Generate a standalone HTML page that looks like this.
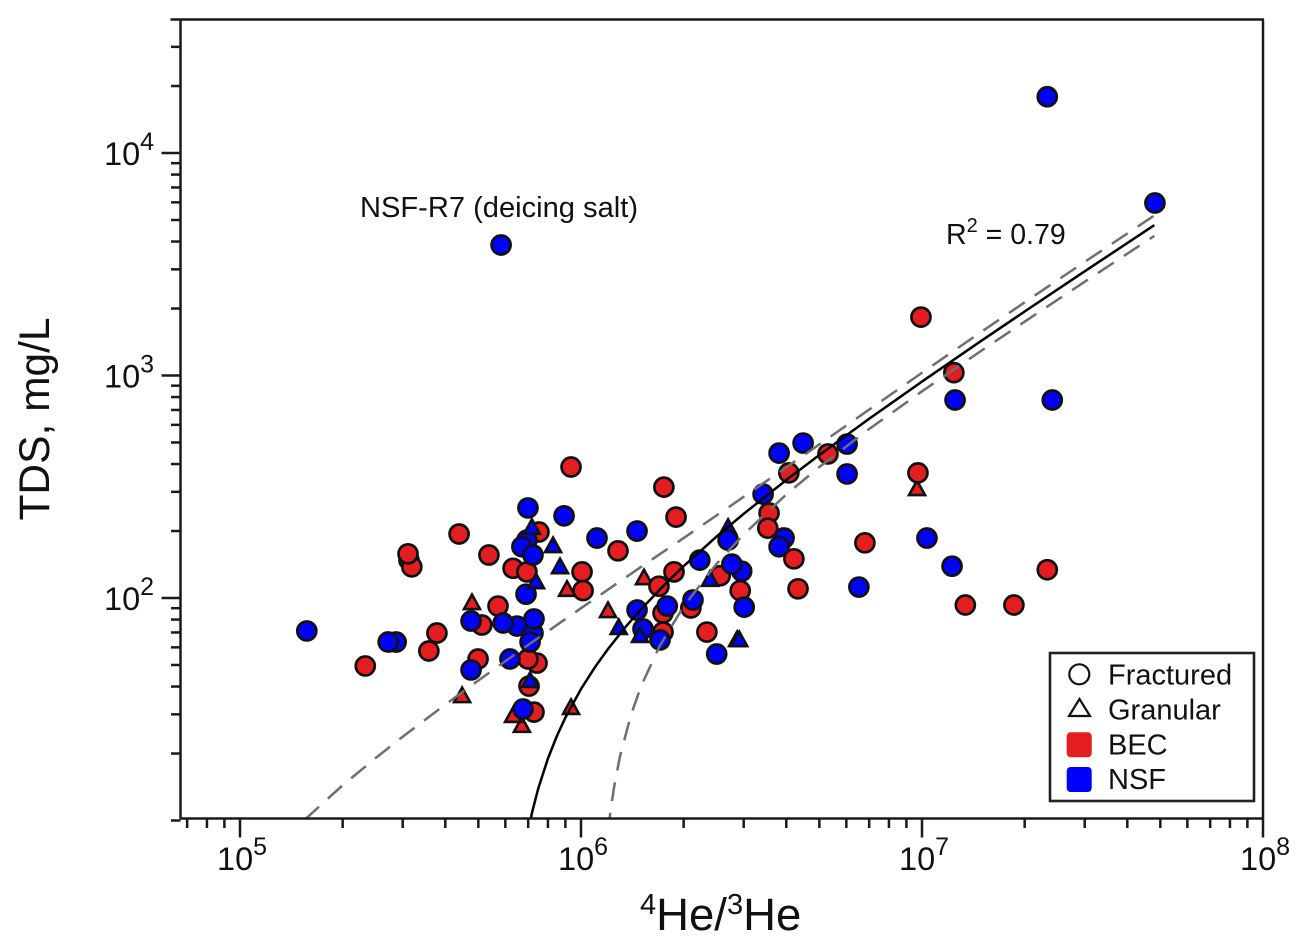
<!DOCTYPE html>
<html lang="en">
<head>
<meta charset="utf-8">
<title>TDS vs 4He/3He</title>
<style>
html,body{margin:0;padding:0;background:#fff;width:1296px;height:944px;overflow:hidden}
svg{display:block}
text{font-family:"Liberation Sans",sans-serif;fill:#111}
</style>
</head>
<body>
<svg id="chart" xmlns="http://www.w3.org/2000/svg" width="1296" height="944" viewBox="0 0 1296 944">
  <defs><clipPath id="plot-clip"><rect x="181" y="20" width="1082" height="798"/></clipPath></defs>
  <g id="marks"></g>
  <g id="fits" clip-path="url(#plot-clip)"></g>
  <g id="axes"></g>
  <g id="tick-labels"></g>

  <text transform="translate(49,419) rotate(-90)" text-anchor="middle" font-size="42.5">TDS, mg/L</text>
  <text x="640" y="930" font-size="45.5"><tspan font-size="29" dy="-16">4</tspan><tspan dy="16">He/</tspan><tspan font-size="29" dy="-16">3</tspan><tspan dy="16">He</tspan></text>
  <text x="360" y="217" font-size="28.5" textLength="278" lengthAdjust="spacingAndGlyphs">NSF-R7 (deicing salt)</text>
  <text x="946" y="244" font-size="28.5">R<tspan font-size="20" dy="-12">2</tspan><tspan dy="12"> = 0.79</tspan></text>

  <g>
    <rect x="1050" y="653" width="204" height="148" fill="#fff" stroke="#222" stroke-width="2.6"/>
    <circle cx="1079.3" cy="674.3" r="10" fill="#fff" stroke="#111" stroke-width="2.2"/>
    <text x="1108" y="684.5" font-size="29">Fractured</text>
    <path d="M1079.5 699 L1069 716 L1090 716 Z" fill="#fff" stroke="#111" stroke-width="2.2"/>
    <text x="1108" y="719.5" font-size="29">Granular</text>
    <rect x="1066.7" y="732.3" width="25" height="25" rx="4" fill="#e41e20"/>
    <text x="1108" y="754.5" font-size="29">BEC</text>
    <rect x="1066.7" y="767" width="25" height="25" rx="4" fill="#0000ff"/>
    <text x="1108" y="789" font-size="29">NSF</text>
  </g>
</svg>
<script>
// ---- data: He ratio (x) and TDS mg/L (y) ----
const becGranularX = [4.79e5,9.1e5,4.48e5,9.35e5,6.71e5,6.32e5,1.2e6,1.53e6,9.67e6];
const becGranularY = [95.9,110,36.6,32.4,26.9,29.8,88.3,124,312];
const becFracturedX = [9.35e5,4.39e5,7.53e5,3.13e5,3.19e5,3.11e5,5.37e5,6.32e5,6.94e5,1.007e6,1.014e6,5.71e5,5.12e5,3.78e5,3.58e5,2.33e5,4.99e5,7.43e5,6.99e5,7.04e5,7.28e5,1.75e6,1.9e6,1.284e6,1.874e6,1.693e6,1.74e6,1.74e6,2.1e6,2.56e6,2.93e6,2.34e6,4.07e6,5.3e6,3.56e6,3.53e6,4.21e6,4.33e6,6.8e6,9.93e6,1.24e7,9.73e6,2.33e7,1.34e7,1.86e7];
const becFracturedY = [388,194,198,148,138,158,156,136,131,131,108,92,75.6,69.6,57.8,49.5,53.2,51,53.2,40.2,30.7,315,231,163,131,113,85.6,70.3,90.2,126,108,70.3,365,444,241,206,150,110,177,1830,1030,365,134,93,93];
const nsfGranularBehindX = [2.7e6,3.88e6];
const nsfGranularBehindY = [209,188];
const nsfFracturedX = [6.99e5,8.92e5,1.114e6,6.94e5,6.71e5,7.23e5,6.9e5,1.57e5,2.87e5,2.72e5,4.76e5,6.49e5,5.91e5,7.23e5,7.28e5,7.09e5,6.19e5,4.76e5,6.76e5,1.46e6,1.46e6,1.52e6,1.705e6,1.79e6,2.13e6,2.23e6,2.7e6,2.96e6,2.77e6,3.01e6,2.5e6,3.42e6,3.81e6,4.48e6,6.03e6,6.03e6,3.94e6,3.81e6,6.53e6,2.33e7,4.82e7,5.83e5,1.25e7,2.41e7,1.034e7,1.225e7];
const nsfFracturedY = [254,234,186,182,170,156,104,71.1,63.4,63.4,78.8,74.8,77.2,69.6,80.5,63.4,53.2,47.5,31.7,200,88.3,72.6,64.8,92,98,148,182,132,142,91,56,293,448,497,492,361,186,170,112,17900,5960,3860,776,776,186,139];
const nsfGranularX = [7.18e5,8.28e5,8.68e5,7.38e5,7.09e5,1.29e6,1.49e6,2.39e6,2.87e6,2.91e6];
const nsfGranularY = [209,173,139,119,42.8,74.1,68.2,122,65.4,65.4];

const fitX = [7e5,7.2e5,7.5e5,8e5,8.5e5,9e5,1e6,1.1e6,1.2e6,1.35e6,1.5e6,1.75e6,2e6,2.5e6,3e6,4e6,5e6,7e6,1e7,1.5e7,2e7,3e7,4.8e7];
const fitY = [9,11,14,19,24,29,39,49,59,74,89,114,139,189,239,339,439,639,939,1439,1939,2939,4739];
const upperX = [1.55e5,2e5,2.5e5,3e5,4e5,5e5,7e5,1e6,1.5e6,2e6,3e6,5e6,7e6,1e7,1.5e7,2e7,3e7,4.8e7];
const upperY = [10.1,14.4,19.1,23.8,33.2,42.6,61.5,90,138,186,285,490,703,1029,1579,2132,3240,5236];
const lowerX = [1.2e6,1.22e6,1.25e6,1.3e6,1.4e6,1.5e6,1.7e6,2e6,2.5e6,3e6,4e6,5e6,7e6,1e7,1.5e7,2e7,3e7,4.8e7];
const lowerY = [8.9,11,14.1,19.3,29.7,40.1,60.8,91.7,142.7,193,292,388,575,849,1299,1746,2638,4242];

const xTickExponents = [5,6,7,8];
const yTickExponents = [2,3,4];

// ---- axis functions ----
const NS = 'http://www.w3.org/2000/svg';
const frameLeft = 180.5, frameRight = 1263, frameTop = 19.5, frameBottom = 818.5;
function xScale(v){ return 240 + (Math.log10(v) - 5) * 341; }
function yScale(v){ return 598 - (Math.log10(v) - 2) * 222.5; }

const RED = '#e41e20', BLUE = '#0000ff';
const marksLayer = document.getElementById('marks');
const fitsLayer = document.getElementById('fits');
const axesLayer = document.getElementById('axes');
const labelLayer = document.getElementById('tick-labels');

function drawCircles(xs, ys, color, group){
  xs.forEach(function(v, i){
    const el = document.createElementNS(NS, 'circle');
    
    
    el.setAttribute('cx', xScale(v));
    el.setAttribute('cy', yScale(ys[i]));
    el.setAttribute('r', 9.5);
    el.setAttribute('fill', color);
    el.setAttribute('stroke', '#111');
    el.setAttribute('stroke-width', 2.7);
    marksLayer.appendChild(el);
  });
}
function drawTriangles(xs, ys, color, group){
  xs.forEach(function(v, i){
    const cx = xScale(v), cy = yScale(ys[i]);
    const el = document.createElementNS(NS, 'path');
    
    
    el.setAttribute('d', 'M' + cx + ' ' + (cy - 7.5) + 'L' + (cx - 8) + ' ' + (cy + 7) + 'L' + (cx + 8) + ' ' + (cy + 7) + 'Z');
    el.setAttribute('fill', color);
    el.setAttribute('stroke', '#111');
    el.setAttribute('stroke-width', 2.6);
    marksLayer.appendChild(el);
  });
}
function drawLine(xs, ys, name, color, width, dash){
  const el = document.createElementNS(NS, 'polyline');
  
  
  el.setAttribute('points', xs.map(function(v, i){ return xScale(v).toFixed(2) + ',' + yScale(ys[i]).toFixed(2); }).join(' '));
  el.setAttribute('fill', 'none');
  el.setAttribute('stroke', color);
  el.setAttribute('stroke-width', width);
  if (dash) el.setAttribute('stroke-dasharray', dash);
  fitsLayer.appendChild(el);
}
function axisLine(x1, y1, x2, y2, name){
  const el = document.createElementNS(NS, 'line');
  
  
  el.setAttribute('x1', x1);
  el.setAttribute('y1', y1);
  el.setAttribute('x2', x2);
  el.setAttribute('y2', y2);
  el.setAttribute('stroke', '#1a1a1a');
  el.setAttribute('stroke-width', 2.5);
  axesLayer.appendChild(el);
}
function powerLabel(x, y, exp, name){
  const t = document.createElementNS(NS, 'text');
  
  
  t.setAttribute('x', x);
  t.setAttribute('y', y);
  t.setAttribute('font-size', 32.5);
  t.textContent = '10';
  const s = document.createElementNS(NS, 'tspan');
  s.setAttribute('font-size', 25);
  s.setAttribute('dy', -15);
  s.textContent = String(exp);
  t.appendChild(s);
  labelLayer.appendChild(t);
}

// ---- marks, back to front ----
drawTriangles(becGranularX, becGranularY, RED, 'bec-granular');
drawCircles(becFracturedX, becFracturedY, RED, 'bec-fractured');
drawTriangles(nsfGranularBehindX, nsfGranularBehindY, BLUE, 'nsf-granular');
drawCircles(nsfFracturedX, nsfFracturedY, BLUE, 'nsf-fractured');
drawTriangles(nsfGranularX, nsfGranularY, BLUE, 'nsf-granular');

// ---- fit lines ----
drawLine(upperX, upperY, 'upper-confidence-band', '#6e6e6e', 2.5, '19 12');
drawLine(lowerX, lowerY, 'lower-confidence-band', '#6e6e6e', 2.5, '19 12');
drawLine(fitX, fitY, 'regression-fit-line', '#000', 2.5);

// ---- frame ----
axisLine(frameLeft, frameTop, frameLeft, frameBottom, 'y-axis-line');
axisLine(frameLeft - 1, frameBottom, frameRight + 1, frameBottom, 'x-axis-line');
axisLine(frameLeft - 10, frameTop, frameRight + 1, frameTop, 'top-frame-line');
axisLine(frameRight, frameTop, frameRight, frameBottom, 'right-frame-line');

// ---- x ticks ----
for (let e = 4; e <= 8; e++) {
  for (let m = 1; m <= 9; m++) {
    const v = m * Math.pow(10, e), px = xScale(v);
    if (px < frameLeft || px > frameRight + 0.5) continue;
    axisLine(px, frameBottom, px, frameBottom + (m === 1 ? 19 : 9.5), m === 1 ? 'x-major-tick' : 'x-minor-tick');
  }
}
// ---- y ticks ----
for (let e = 1; e <= 4; e++) {
  for (let m = 1; m <= 9; m++) {
    const v = m * Math.pow(10, e), py = yScale(v);
    if (py < frameTop || py > frameBottom + 2) continue;
    const isMajor = m === 1 && e > 1;
    axisLine(frameLeft - (isMajor ? 19 : 9.5), py, frameLeft, py, isMajor ? 'y-major-tick' : 'y-minor-tick');
  }
}
// ---- tick labels ----
xTickExponents.forEach(function(e){
  powerLabel(xScale(Math.pow(10, e)) - 23, 870, e, 'x-tick-label');
});
yTickExponents.forEach(function(e){
  powerLabel(104, yScale(Math.pow(10, e)) + 12, e, 'y-tick-label');
});
</script>
</body>
</html>
